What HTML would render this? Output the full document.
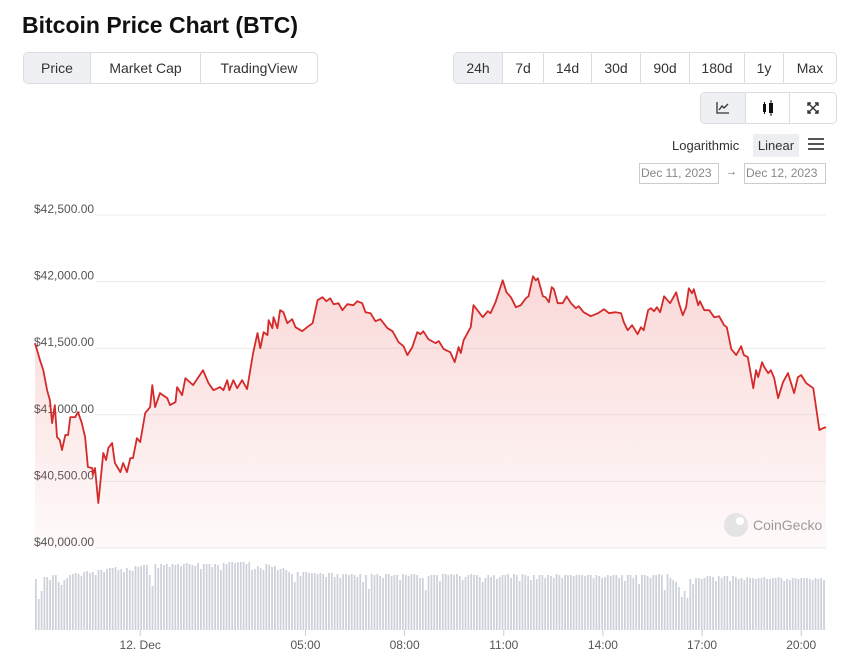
<!DOCTYPE html>
<html><head><meta charset="utf-8">
<style>
body{margin:0;background:#fff;font-family:"Liberation Sans",sans-serif;color:#333;}
#wrap{position:relative;width:841px;height:654px;overflow:hidden;}
.title{position:absolute;left:22px;top:12px;font-size:23px;font-weight:bold;color:#111;}
.grp{position:absolute;display:flex;border:1px solid #d9dce1;border-radius:5px;overflow:hidden;height:30px;}
.grp div{display:flex;align-items:center;justify-content:center;font-size:14px;color:#333;border-right:1px solid #d9dce1;box-sizing:border-box;}
.grp div:last-child{border-right:none;}
.grp .on{background:#eef0f3;}
.txt{position:absolute;font-size:13px;color:#333;white-space:nowrap;}
.date{position:absolute;border:1px solid #ccc;font-size:12px;color:#888;height:21px;line-height:19px;padding:0 1px;box-sizing:border-box;white-space:nowrap;overflow:hidden;}
</style></head><body>
<div id="wrap">
<div class="title">Bitcoin Price Chart (BTC)</div>
<div class="grp" style="left:23px;top:52px;width:293px;">
<div class="on" style="width:67px">Price</div>
<div style="width:110px">Market Cap</div>
<div style="width:116px">TradingView</div>
</div>
<div class="grp" style="left:453px;top:52px;width:382px;">
<div class="on" style="width:49px">24h</div>
<div style="width:41px">7d</div>
<div style="width:48px">14d</div>
<div style="width:49px">30d</div>
<div style="width:49px">90d</div>
<div style="width:55px">180d</div>
<div style="width:39px">1y</div>
<div style="width:52px">Max</div>
</div>
<div class="grp" style="left:700px;top:92px;width:135px;">
<div class="on" style="width:45px"><svg width="14" height="12"><path d="M1 0V11H13" stroke="#333" fill="none" stroke-width="1.3"/><path d="M3 8L6 4L8 6L12 2" stroke="#333" fill="none" stroke-width="1.3"/></svg></div>
<div style="width:44px"><svg width="14" height="16"><rect x="2" y="4" width="3" height="8" fill="#111"/><rect x="8" y="3" width="4" height="10" fill="#111"/><line x1="10" y1="0" x2="10" y2="16" stroke="#111"/><line x1="3.5" y1="2" x2="3.5" y2="14" stroke="#111"/></svg></div>
<div style="width:46px"><svg width="12" height="12"><path d="M1 4V1H4M8 1H11V4M11 8V11H8M4 11H1V8M1 1L11 11M11 1L1 11" stroke="#333" fill="none" stroke-width="1.4"/></svg></div>
</div>
<div class="txt" style="left:672px;top:138px;">Logarithmic</div>
<div class="txt" style="left:753px;top:134px;width:46px;height:23px;line-height:23px;text-align:center;background:#eceef1;">Linear</div>
<div style="position:absolute;left:808px;top:138px;width:16px;"><div style="height:2px;background:#555;margin-bottom:3px"></div><div style="height:2px;background:#555;margin-bottom:3px"></div><div style="height:2px;background:#555"></div></div>
<div class="date" style="left:639px;top:163px;width:80px;">Dec 11, 2023</div>
<div class="txt" style="left:726px;top:166px;font-size:11px;color:#666">→</div>
<div class="date" style="left:744px;top:163px;width:82px;">Dec 12, 2023</div>
<svg id="chart" width="841" height="654" style="position:absolute;left:0;top:0"></svg>
</div>
<script>
const priceTimes=[0,9,15,22,27,31,36,40,45,49,55,60,64,73,78,85,91,96,104,105,109,115,124,129,133,140,145,155,160,167,173,178,185,191,200,209,213,218,227,240,245,255,258,267,273,287,305,315,324,336,342,349,353,360,367,376,385,396,404,409,415,422,424,431,433,440,445,451,458,467,473,485,494,504,513,522,529,536,542,551,558,567,578,585,594,600,609,618,627,640,649,660,669,676,685,694,700,705,714,727,733,742,754,762,769,773,778,791,796,813,822,827,836,849,856,864,873,882,891,896,904,909,913,922,927,933,938,942,949,958,965,973,982,987,996,1009,1022,1033,1042,1054,1064,1069,1076,1084,1094,1100,1105,1113,1118,1124,1129,1135,1142,1153,1164,1169,1176,1182,1187,1193,1196,1204,1207,1215,1224,1233,1242,1251,1256,1264,1273,1282,1287,1294,1304,1309,1313,1320,1324,1331,1336,1342,1349,1358,1367,1378,1385,1391,1400,1413,1424,1431,1436];
const prices=[41538,41410,41335,41185,41110,40938,41073,40833,40810,40735,40848,40848,40983,40983,41020,40938,40833,40608,40600,40548,40600,40338,40713,40660,40750,40788,40638,40570,40638,40570,40675,40675,40825,40795,41013,41058,41223,41058,41163,41125,41073,41095,41208,41148,41275,41223,41335,41238,41185,41208,41185,41260,41185,41260,41200,41260,41193,41463,41613,41500,41620,41598,41710,41650,41733,41650,41785,41770,41688,41718,41658,41628,41658,41688,41860,41883,41853,41875,41830,41838,41785,41830,41823,41853,41838,41770,41763,41703,41718,41650,41628,41545,41515,41448,41508,41620,41605,41628,41568,41538,41553,41493,41470,41395,41508,41463,41560,41658,41823,41733,41778,41763,41845,42010,41920,41883,41808,41823,41875,41890,42040,42010,42025,41890,41883,41845,41958,41943,41838,41838,41890,41838,41800,41815,41770,41740,41763,41793,41763,41770,41763,41695,41635,41673,41605,41658,41635,41785,41800,41778,41808,41770,41890,41838,41920,41838,41748,41808,41950,41913,41943,41823,41853,41785,41785,41733,41740,41673,41658,41493,41448,41515,41448,41433,41200,41335,41283,41395,41358,41313,41335,41275,41125,41245,41313,41163,41283,41298,41238,41200,40885,40900,40908];
const volumes=[51,31,39,53,53,50,55,55,48,45,50,52,55,56,57,56,54,58,59,57,58,55,60,60,58,61,62,62,63,60,61,58,62,60,59,64,63,64,65,65,55,44,66,62,66,65,66,63,66,65,66,64,66,67,66,65,64,67,61,66,66,66,63,66,65,60,67,66,68,68,67,68,68,68,66,68,60,61,64,62,60,66,65,63,64,60,61,62,60,58,56,48,58,54,58,58,57,57,57,56,57,56,53,57,57,53,56,52,56,56,55,56,55,53,56,48,55,41,56,55,56,54,52,56,56,54,55,55,50,56,55,54,56,56,55,52,52,40,54,55,55,55,49,56,56,55,56,55,56,54,50,53,55,56,55,55,53,48,52,55,53,55,51,53,55,55,56,52,56,55,49,56,55,54,50,55,51,55,55,52,55,54,52,56,55,52,55,55,55,54,55,55,55,54,55,55,52,55,54,52,53,55,54,55,55,52,55,49,55,55,52,55,46,55,55,54,52,55,55,56,55,40,56,52,50,48,43,33,39,32,51,46,52,52,51,52,54,54,53,49,54,52,54,54,49,54,53,51,52,50,53,52,52,51,52,52,53,51,51,52,52,53,52,49,51,50,52,52,51,52,52,52,51,50,52,51,52,50];
const yTicks=[40000,40500,41000,41500,42000,42500];
const xTickTimes=[191,491,671,851,1031,1211,1391];
const xTickLabels=["12. Dec","05:00","08:00","11:00","14:00","17:00","20:00"];
const NS="http://www.w3.org/2000/svg";
const svg=document.getElementById('chart');
const X0=35,X1=826,TMAX=1436;
function xs(t){return X0+(t/TMAX)*(X1-X0);}
function ys(p){return 548-(p-40000)*(333/2500);}
function vs(v){return 630-v;}
function mk(tag,attrs){const e=document.createElementNS(NS,tag);for(const k in attrs)e.setAttribute(k,attrs[k]);svg.appendChild(e);return e;}
const defs=mk('defs',{});
defs.innerHTML='<linearGradient id="fg" x1="0" y1="0" x2="0" y2="1"><stop offset="0" stop-color="#e85050" stop-opacity="0.22"/><stop offset="1" stop-color="#e85050" stop-opacity="0.03"/></linearGradient>';
yTicks.forEach(v=>{
 const y=ys(v);
 const l=mk('line',{x1:96,x2:X1,y1:y,y2:y,stroke:'#ececec','stroke-width':1});
 
 
 const t=mk('text',{x:34,y:y-2,'font-size':12,fill:'#555','font-family':'Liberation Sans, sans-serif'});
 t.textContent='$'+v.toLocaleString('en-US')+'.00';
 
 
});
let d='';
priceTimes.forEach((t,i)=>{d+=(i?'L':'M')+xs(t).toFixed(1)+' '+ys(prices[i]).toFixed(1);});
const area=mk('path',{d:d+'L'+xs(priceTimes[priceTimes.length-1])+' 548L'+xs(0)+' 548Z',fill:'url(#fg)'});


const wm=mk('g',{});


wm.innerHTML='<circle cx="736" cy="525" r="12" fill="#e4e4e4"/><circle cx="740" cy="521" r="4" fill="#fff"/><text x="753" y="530" font-size="14" fill="#9a9a9a" font-family="Liberation Sans, sans-serif">CoinGecko</text>';
svg.appendChild(wm);
const line=mk('path',{d:d,fill:'none',stroke:'#d42a2a','stroke-width':1.8,'stroke-linejoin':'round'});


const step=(X1-X0)/volumes.length;
volumes.forEach((v,i)=>{
 const b=mk('rect',{x:(X0+i*step).toFixed(2),y:vs(v),width:(step*0.62).toFixed(2),height:630-vs(v),fill:'#cdd1da'});
 
 
});
xTickTimes.forEach((t,i)=>{
 const x=xs(t);
 const tk=mk('line',{x1:x,x2:x,y1:630,y2:636,stroke:'#ccc'});
 
 
 const tx=mk('text',{x:x,y:649,'font-size':12,fill:'#555','text-anchor':'middle','font-family':'Liberation Sans, sans-serif'});
 tx.textContent=xTickLabels[i];
 
 
});
</script>
</body></html>
